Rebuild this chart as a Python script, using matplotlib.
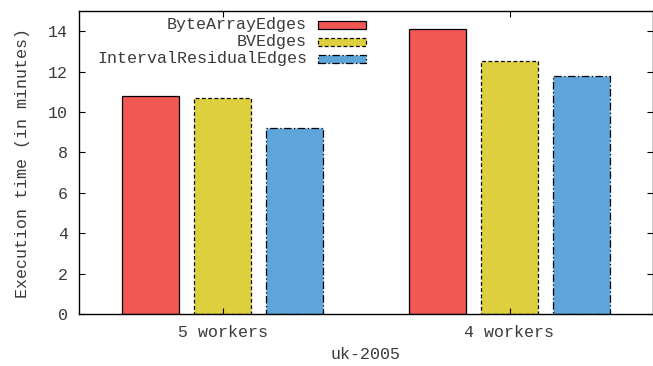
import numpy as np
import matplotlib
matplotlib.use('Agg')
import matplotlib.pyplot as plt
from matplotlib.patches import Rectangle

# data
categories = ['5 workers', '4 workers']
series_names = ['ByteArrayEdges', 'BVEdges', 'IntervalResidualEdges']
byte_array = [10.77, 14.09]
bv = [10.71, 12.53]
interval_residual = [9.19, 11.80]
yticks = [0, 2, 4, 6, 8, 10, 12, 14]

plt.rcParams['font.family'] = ['Liberation Mono', 'DejaVu Sans Mono']
plt.rcParams['font.size'] = 12

colors = ['#F15854', '#DECF3F', '#5DA5DA']
styles = ['-', (0, (3, 2)), (0, (6, 2, 1, 2))]
txt = '#3a3a3a'

fig = plt.figure(figsize=(6.53, 3.66), dpi=100)
ax = fig.add_axes([79 / 653, 1 - 314 / 366, 574 / 653, 303 / 366])

x = np.arange(len(categories))
width = 0.2
offsets = [-0.25, 0.0, 0.25]
for vals, off, c, ls in zip([byte_array, bv, interval_residual], offsets, colors, styles):
    ax.bar(x + off, vals, width, color=c, edgecolor='black', linewidth=0.9, linestyle=ls)

ax.set_xlim(-0.5, 1.5)
ax.set_ylim(0, 15)
ax.set_xticks(x)
ax.set_xticklabels(categories, color=txt)
ax.set_yticks(yticks)
ax.set_yticklabels([str(v) for v in yticks], color=txt)
ax.tick_params(direction='in', length=4, width=0.8, top=True, right=True, pad=8)
for s in ax.spines.values():
    s.set_linewidth(1.0)

ax.set_ylabel('Execution time (in minutes)', color=txt, labelpad=13)
ax.set_xlabel('uk-2005', color=txt, labelpad=5)

# legend drawn by hand: text right aligned, key box on the right
row_y = [0.954, 0.898, 0.842]
for name, c, ls, yy in zip(series_names, colors, styles, row_y):
    ax.text(0.397, yy, name, transform=ax.transAxes, ha='right', va='center', color=txt)
    ax.add_patch(Rectangle((0.4164, yy - 0.0132), 0.0836, 0.0264, transform=ax.transAxes,
                           facecolor=c, edgecolor='black', linewidth=0.9, linestyle=ls))

plt.savefig('out.png')
